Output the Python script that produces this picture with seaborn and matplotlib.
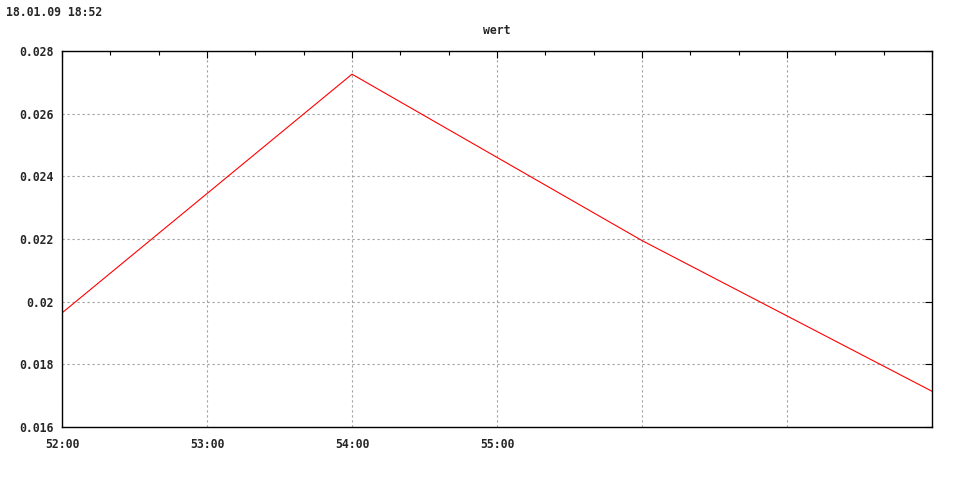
import pandas as pd
import seaborn as sns
import matplotlib.pyplot as plt
from matplotlib.ticker import MultipleLocator, FuncFormatter

# values (minutes past 18:00)
minutes = [52, 54, 56, 58]
wert = [0.01964, 0.02726, 0.02195, 0.01714]

x_ticks = [52, 53, 54, 55, 56, 57, 58]
x_labels = ["52:00", "53:00", "54:00", "55:00", "", "", ""]
y_ticks = [0.016, 0.018, 0.02, 0.022, 0.024, 0.026, 0.028]

df = pd.DataFrame({"minute": minutes, "wert": wert})

sns.set_style("white")
plt.rcParams['font.family'] = ['DejaVu Sans Mono', 'DejaVu Sans']
plt.rcParams['font.weight'] = 'bold'

fig = plt.figure(figsize=(9.6, 4.8), dpi=100)
ax = fig.add_axes([62 / 960, 53 / 480, 870 / 960, 376 / 480])

sns.lineplot(data=df, x="minute", y="wert", color="red", linewidth=0.8, ax=ax)

ax.set_xlim(52, 58)
ax.set_ylim(0.016, 0.028)
ax.set_xticks(x_ticks)
ax.set_xticklabels(x_labels)
ax.xaxis.set_minor_locator(MultipleLocator(1 / 3))
ax.set_yticks(y_ticks)
ax.yaxis.set_major_formatter(FuncFormatter(lambda v, p: f"{v:g}"))

ax.grid(True, which="major", color="#a0a0a0", linestyle=(0, (2, 2.5)), linewidth=0.8)
ax.tick_params(which="both", direction="in", top=True, right=True, color="black", width=0.8)
ax.tick_params(which="major", length=5, labelsize=8.3, pad=6)
ax.tick_params(which="minor", length=3)
ax.tick_params(axis="x", pad=8)
for s in ax.spines.values():
    s.set_color("black")
    s.set_linewidth(1.0)

ax.set_xlabel("")
ax.set_ylabel("")
ax.set_title("wert", fontsize=8.3, fontweight="bold", pad=12)
fig.text(6 / 960, 1 - 12 / 480, "18.01.09 18:52", fontsize=8.3, fontweight="bold", va="center", ha="left")

fig.savefig("out.png", dpi=100)
